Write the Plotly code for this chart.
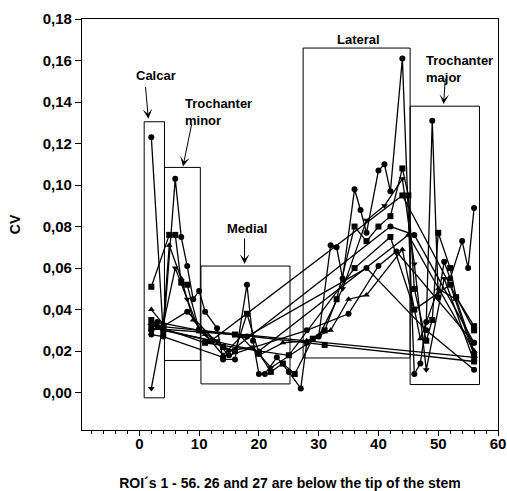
import plotly.graph_objects as go

# ---- data (approximate) ----
s1_x = [2, 4, 6, 7, 8, 9, 10, 11, 13, 14, 16, 18, 19, 20, 21, 23, 25, 27, 28, 30, 32, 33, 34, 36, 37, 38, 40, 41, 42, 44, 46, 47, 48, 49, 50, 51, 52, 54, 55, 56]
s1_y = [0.123, 0.028, 0.103, 0.075, 0.061, 0.045, 0.049, 0.039, 0.031, 0.016, 0.016, 0.052, 0.025, 0.009, 0.009, 0.017, 0.010, 0.002, 0.024, 0.027, 0.071, 0.070, 0.055, 0.098, 0.088, 0.077, 0.107, 0.110, 0.097, 0.161, 0.009, 0.014, 0.034, 0.131, 0.046, 0.063, 0.055, 0.073, 0.060, 0.089]

s2_x = [2, 5, 6, 7, 8, 10, 12, 14, 16, 18, 20, 22, 24, 26, 29, 31, 33, 36, 38, 40, 42, 44, 45, 46, 48, 49, 50, 52, 53, 56]
s2_y = [0.051, 0.076, 0.076, 0.053, 0.052, 0.030, 0.025, 0.022, 0.020, 0.038, 0.019, 0.010, 0.014, 0.009, 0.026, 0.030, 0.045, 0.080, 0.073, 0.080, 0.085, 0.108, 0.095, 0.050, 0.025, 0.035, 0.077, 0.060, 0.046, 0.032]

s3_x = [2, 4, 5, 7, 9, 11, 14, 17, 20, 24, 28, 32, 35, 38, 44, 47, 50, 53, 56]
s3_y = [0.040, 0.033, 0.071, 0.055, 0.035, 0.028, 0.018, 0.027, 0.018, 0.024, 0.025, 0.030, 0.045, 0.047, 0.069, 0.026, 0.050, 0.045, 0.020]

s4_x = [2, 4, 6, 8, 10, 13, 15, 19, 22, 30, 34, 38, 41, 44, 46, 48, 51, 56]
s4_y = [0.002, 0.033, 0.060, 0.045, 0.030, 0.025, 0.020, 0.022, 0.012, 0.027, 0.050, 0.083, 0.090, 0.103, 0.062, 0.011, 0.055, 0.015]

s5_x = [2, 4, 8, 15, 28, 35, 40, 43, 56]
s5_y = [0.030, 0.032, 0.039, 0.018, 0.030, 0.038, 0.061, 0.068, 0.024]

s6_x = [2, 4, 12, 44, 56]
s6_y = [0.035, 0.030, 0.025, 0.095, 0.030]

s7_x = [2, 3, 56]
s7_y = [0.033, 0.032, 0.017]

s8_x = [2, 4, 14, 42, 46, 56]
s8_y = [0.028, 0.027, 0.017, 0.080, 0.076, 0.024]

s9_x = [3, 20, 45, 56]
s9_y = [0.031, 0.020, 0.076, 0.020]

s10_x = [2, 16, 31, 56]
s10_y = [0.031, 0.028, 0.023, 0.015]

s11_x = [3, 10, 18, 38, 48, 56]
s11_y = [0.034, 0.030, 0.027, 0.060, 0.030, 0.011]

s12_x = [4, 11, 25, 36, 42, 46, 52, 56]
s12_y = [0.031, 0.024, 0.018, 0.060, 0.075, 0.040, 0.052, 0.018]

series = [
    (s1_x, s1_y, "circle"),
    (s2_x, s2_y, "square"),
    (s3_x, s3_y, "triangle-up"),
    (s4_x, s4_y, "triangle-down"),
    (s5_x, s5_y, "circle"),
    (s6_x, s6_y, "square"),
    (s7_x, s7_y, "diamond"),
    (s8_x, s8_y, "circle"),
    (s9_x, s9_y, "triangle-up"),
    (s10_x, s10_y, "square"),
    (s11_x, s11_y, "circle"),
    (s12_x, s12_y, "square"),
]

# regions: (x0, x1, y0, y1)
regions = [
    (0.8, 4.2, -0.0025, 0.1305),
    (4.2, 10.2, 0.0155, 0.1085),
    (10.3, 25.2, 0.0042, 0.061),
    (27.4, 45.3, 0.0167, 0.166),
    (45.3, 56.9, 0.0039, 0.138),
]

xticks = [0, 10, 20, 30, 40, 50, 60]
yticks = [0.0, 0.02, 0.04, 0.06, 0.08, 0.10, 0.12, 0.14, 0.16, 0.18]

fig = go.Figure()
for xs, ys, sym in series:
    fig.add_trace(go.Scatter(
        x=xs, y=ys, mode="lines+markers",
        line=dict(color="black", width=1.3),
        marker=dict(symbol=sym, size=6, color="black"),
        showlegend=False, cliponaxis=False,
    ))

for x0, x1, y0, y1 in regions:
    fig.add_shape(type="rect", x0=x0, x1=x1, y0=y0, y1=y1,
                  line=dict(color="black", width=1), layer="below")

FONT = "Liberation Sans, Arial, sans-serif"
bold = dict(family=FONT, size=13, color="black", weight="bold")

def label(text, x, y, ax, ay, tx, ty):
    fig.add_annotation(x=x, y=y, ax=ax, ay=ay, xref="x", yref="y", axref="x", ayref="y",
                       showarrow=True, arrowhead=3, arrowsize=1.6, arrowwidth=1, arrowcolor="black",
                       text="")
    fig.add_annotation(x=tx, y=ty, xref="x", yref="y", text=text, showarrow=False,
                       font=bold, align="left")

label("Calcar", 1.5, 0.132, 1.0, 0.148, 2.8, 0.153)
label("Trochanter<br>minor", 7.3, 0.109, 8.8, 0.130, 13.2, 0.135)
label("Medial", 17.6, 0.062, 17.6, 0.075, 18.0, 0.079)
fig.add_annotation(x=36.6, y=0.170, xref="x", yref="y", text="Lateral", showarrow=False, font=bold)
label("Trochanter<br>major", 50.9, 0.139, 51.2, 0.152, 53.6, 0.156)

tickfont = dict(family=FONT, size=15, color="black", weight="bold")
titlefont = dict(family=FONT, size=14, color="black", weight="bold")
fig.update_layout(
    width=507, height=491,
    margin=dict(l=82, r=9, t=19, b=61),
    paper_bgcolor="white", plot_bgcolor="white",
    separators=",.",
    xaxis=dict(range=[-9.6, 60], tickvals=xticks, ticks="outside", ticklen=5, tickwidth=1,
               tickcolor="black", showgrid=False, zeroline=False, showline=True, linecolor="black",
               linewidth=1.2, mirror=True, tickfont=tickfont, automargin=False,
               ticklabelstandoff=-5,
               minor=dict(dtick=2, ticks="outside", ticklen=3, tickcolor="black"),
               title=dict(text="ROI\u00b4s 1 - 56. 26 and 27 are below the tip of the stem",
                          font=titlefont, standoff=28)),
    yaxis=dict(range=[-0.018, 0.18], tickvals=yticks, tickformat=".2f", ticks="outside", ticklen=6,
               tickwidth=1, tickcolor="black", showgrid=False, zeroline=False, showline=True,
               linecolor="black", linewidth=1.2, mirror=True, tickfont=tickfont, automargin=False,
               title=dict(text="CV", font=titlefont, standoff=18)),
)

fig.write_html("out.html", config={"displayModeBar": False},
               post_script="document.body.style.margin='0';")
